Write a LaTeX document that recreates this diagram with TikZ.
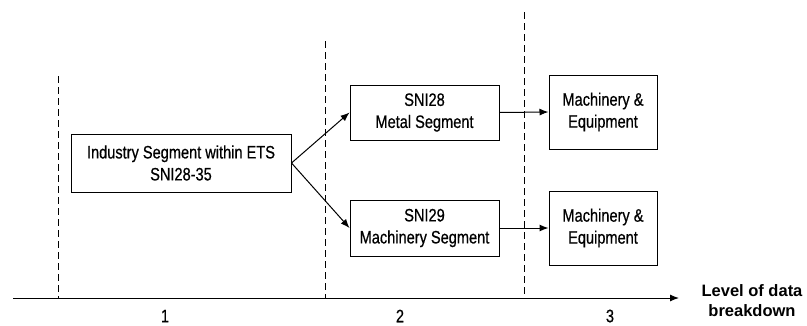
\documentclass[tikz,border=0pt]{standalone}
\usepackage{fontspec}
\setmainfont{Liberation Sans}
\newfontfamily\narrowfont{Liberation Sans}[FakeStretch=0.81, FakeBold=0.6]
\usetikzlibrary{arrows.meta}

\begin{document}
\begin{tikzpicture}[x=1pt,y=-1pt,
  box/.style={draw, line width=1pt, align=center, inner sep=0pt,
    font=\narrowfont\fontsize{18}{22}\selectfont},
  conn/.style={-{Latex[length=9pt,width=7pt]}, line width=1pt},
  guide/.style={line width=1pt, dash pattern=on 7pt off 4pt},
  tick/.style={font=\narrowfont\fontsize{18}{22}\selectfont, inner sep=0pt}]
\useasboundingbox (0,0) rectangle (807,325);

% dashed level separators
\coordinate (g1t) at (58,76);   \coordinate (g1b) at (58,298);
\coordinate (g2t) at (325,41);  \coordinate (g2b) at (325,298);
\coordinate (g3t) at (524,12);  \coordinate (g3b) at (524,298);
\draw[guide] (g1t) -- (g1b);
\draw[guide] (g2t) -- (g2b);
\draw[guide] (g3t) -- (g3b);

% level axis
\coordinate (axs) at (13,298);
\coordinate (axe) at (679,298);
\draw[conn] (axs) -- (axe);

% boxes
\node[box, minimum width=220pt, minimum height=58pt] (ind) at (181,163)
  {Industry Segment within ETS\\SNI28-35};
\node[box, minimum width=149pt, minimum height=55pt] (met) at (424.5,112.5)
  {SNI28\\Metal Segment};
\node[box, minimum width=149pt, minimum height=56pt] (mac) at (424.5,228)
  {SNI29\\Machinery Segment};
\node[box, minimum width=108pt, minimum height=74pt] (me1) at (603,112)
  {Machinery \&\\Equipment};
\node[box, minimum width=108pt, minimum height=74pt] (me2) at (603,228)
  {Machinery \&\\Equipment};

% connectors
\draw[conn] (ind.east) -- (met.west);
\draw[conn] (ind.east) -- (mac.west);
\draw[conn] (met.east) -- (me1.west);
\draw[conn] (mac.east) -- (me2.west);

% level numbers
\node[tick] (n1) at (165,316) {1};
\node[tick] (n2) at (400,316) {2};
\node[tick] (n3) at (610,316) {3};

% axis title
\node[align=center, inner sep=0pt, font=\bfseries\fontsize{16.5}{20}\selectfont]
  (lvl) at (752,301) {Level of data\\breakdown};
\end{tikzpicture}
\end{document}
